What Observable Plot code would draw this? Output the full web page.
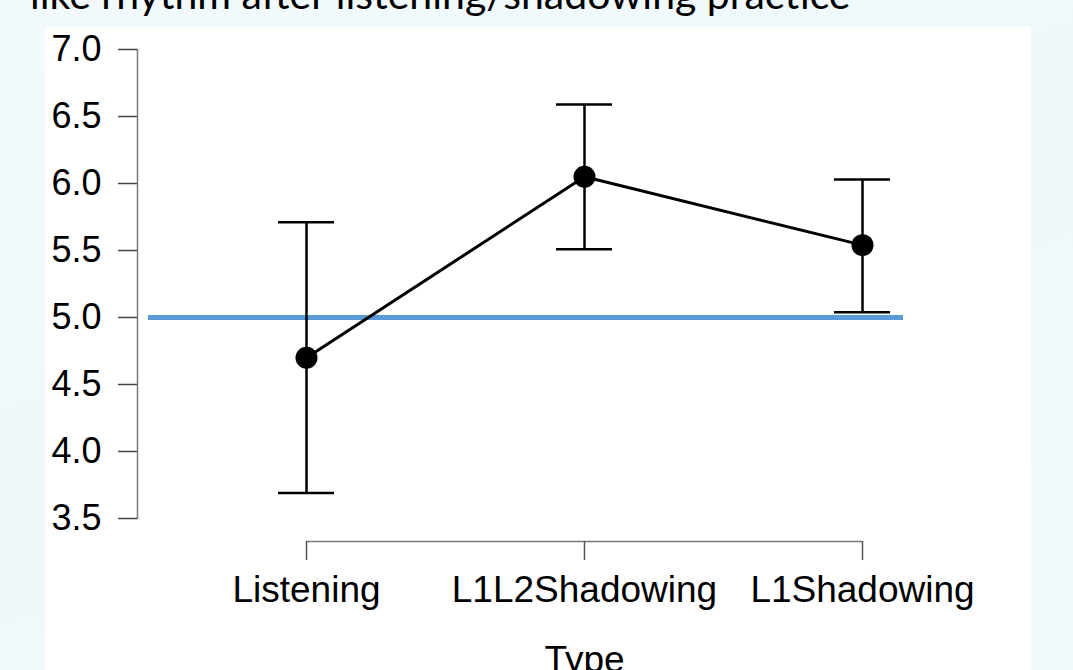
<!DOCTYPE html>
<html>
<head>
<meta charset="utf-8">
<script src="https://cdn.jsdelivr.net/npm/d3@7"></script>
<script src="https://cdn.jsdelivr.net/npm/@observablehq/plot@0.6"></script>
<style>
  html, body { margin: 0; padding: 0; }
  body {
    width: 1073px; height: 670px; overflow: hidden; position: relative;
    background: linear-gradient(160deg, #f2fafd 0%, #eef8fb 50%, #f3fafc 100%);
  }
  #panel { position: absolute; left: 45px; top: 27px; width: 986px; height: 643px; background: #ffffff; }
  #title {
    position: absolute; left: 30px; top: -31px; white-space: nowrap;
    font-family: Lato, "Open Sans", sans-serif; font-size: 41px; color: #000;
  }
  #chart { position: absolute; left: 0; top: 0; }
</style>
</head>
<body>
<div id="panel"></div>
<div id="title">like rhythm after listening/shadowing practice</div>
<div id="chart"></div>
<script>
const categories = ["Listening", "L1L2Shadowing", "L1Shadowing"];
const means = [4.70, 6.05, 5.54];
const lower = [3.69, 5.51, 5.04];
const upper = [5.71, 6.59, 6.03];
const yTicks = [3.5, 4.0, 4.5, 5.0, 5.5, 6.0, 6.5, 7.0];
const referenceValue = 5.0;
const xLabel = "Type";

const data = categories.map((c, i) => ({type: c, mean: means[i], lo: lower[i], hi: upper[i]}));

const font = "Liberation Sans, Arial, sans-serif";

const chart = Plot.plot({
  width: 1073,
  height: 670,
  marginTop: 49,
  marginBottom: 152,
  marginLeft: 148,
  marginRight: 170,
  style: {background: "transparent", fontFamily: font, color: "#000"},
  x: {type: "point", domain: categories, range: [305, 862], padding: 0},
  y: {domain: [3.5, 7]},
  marks: [
    Plot.frame({anchor: "left", dx: -11, stroke: "#7a7a7a", strokeWidth: 1.5}),
    Plot.axisY({ticks: yTicks, tickFormat: d3.format(".1f"), tickSize: 19, tickPadding: 17, dx: -11,
      fontSize: 36, label: null, stroke: "#444", strokeWidth: 1.5, fill: "#000"}),
    Plot.ruleY([yTicks[0]], {x1: () => categories[0], x2: () => categories[categories.length - 1],
      dy: 23, stroke: "#7a7a7a", strokeWidth: 1.5}),
    Plot.axisX({tickSize: 19, tickPadding: 15, dy: 23, fontSize: 37, label: null,
      stroke: "#555", strokeWidth: 1.5, fill: "#000"}),
    Plot.text([xLabel], {x: () => categories[1], frameAnchor: "bottom", dy: 142, fontSize: 37,
      lineAnchor: "middle", fill: "#000"}),
    Plot.ruleY([referenceValue], {stroke: "#5b9bd5", strokeWidth: 5}),
    Plot.ruleX(data, {x: "type", y1: "lo", y2: "hi", stroke: "#000", strokeWidth: 2.5}),
    Plot.ruleY(data, {x1: "type", x2: "type", y: "hi", insetLeft: -28, insetRight: -28, stroke: "#000", strokeWidth: 2.5}),
    Plot.ruleY(data, {x1: "type", x2: "type", y: "lo", insetLeft: -28, insetRight: -28, stroke: "#000", strokeWidth: 2.5}),
    Plot.line(data, {x: "type", y: "mean", stroke: "#000", strokeWidth: 3}),
    Plot.dot(data, {x: "type", y: "mean", r: 11, fill: "#000", stroke: "none"})
  ]
});
document.getElementById("chart").append(chart);
</script>
</body>
</html>
